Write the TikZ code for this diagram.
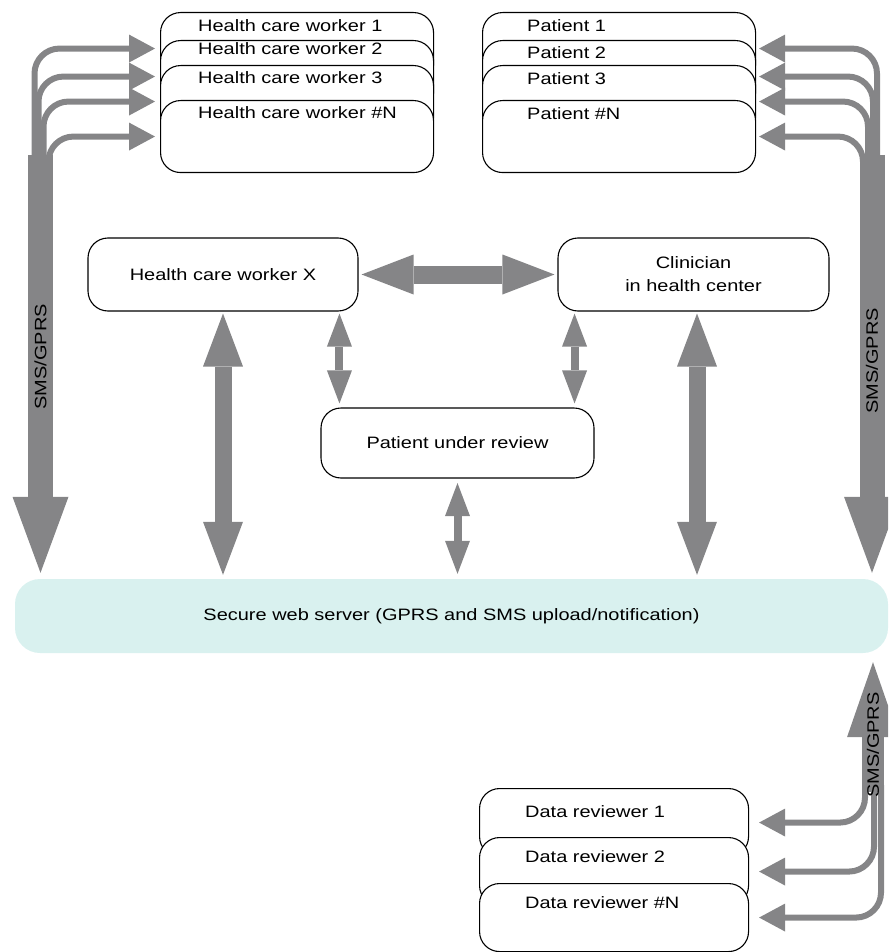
\documentclass[tikz,border=0pt]{standalone}
\usepackage{fontspec}
\setmainfont{Liberation Sans}[FakeStretch=1.21]
\usepackage{tikz}
\usetikzlibrary{arrows.meta}
\definecolor{arrowgray}{RGB}{133,133,135}
\definecolor{servercyan}{RGB}{217,241,239}

\begin{document}
\begin{tikzpicture}[x=1pt, y=1pt, font=\fontsize{16.5}{23}\selectfont]
  \tikzstyle{stackbox}=[draw, line width=1.1pt, fill=white, rounded corners=20pt, anchor=north west, inner sep=0pt]
  \tikzstyle{stacktext}=[anchor=base west, inner sep=0pt]
  \tikzstyle{actor}=[draw, line width=1.1pt, fill=white, rounded corners=20pt, align=center, inner sep=0pt]
  \tikzstyle{trunk}=[draw=arrowgray, line width=25pt, -{Triangle[length=76pt, width=56pt, line width=0pt]}]
  \tikzstyle{branch}=[draw=arrowgray, line width=6pt, rounded corners=25pt, -{Triangle[length=26pt, width=28pt, line width=0pt]}]
  \tikzstyle{biglink}=[draw=arrowgray, line width=17pt,
  {Triangle[length=53pt, width=40pt, line width=0pt]}-{Triangle[length=53pt, width=40pt, line width=0pt]}]
  \tikzstyle{smalllink}=[draw=arrowgray, line width=8pt,
  {Triangle[length=33pt, width=25pt, line width=0pt]}-{Triangle[length=33pt, width=25pt, line width=0pt]}]
  \tikzstyle{smslabel}=[rotate=90, inner sep=0pt]

  \useasboundingbox (0,0) rectangle (888,-952);
  \clip (0,0) rectangle (888,-952);

  \node (hcw1) [stackbox, minimum width=273pt, minimum height=72pt] at (160,-12) {};
  \node (hcw1t) [stacktext] at (198,-32) {Health care worker 1};
  \node (hcw2) [stackbox, minimum width=273pt, minimum height=72pt] at (160,-40) {};
  \node (hcw2t) [stacktext] at (198,-55) {Health care worker 2};
  \node (hcw3) [stackbox, minimum width=273pt, minimum height=72pt] at (160,-65) {};
  \node (hcw3t) [stacktext] at (198,-84) {Health care worker 3};
  \node (hcwn) [stackbox, minimum width=273pt, minimum height=72pt] at (160,-100) {};
  \node (hcwnt) [stacktext] at (198,-119) {Health care worker \#N};

  \node (pat1) [stackbox, minimum width=273pt, minimum height=72pt] at (482,-12) {};
  \node (pat1t) [stacktext] at (527,-32) {Patient 1};
  \node (pat2) [stackbox, minimum width=273pt, minimum height=72pt] at (482,-40) {};
  \node (pat2t) [stacktext] at (527,-59) {Patient 2};
  \node (pat3) [stackbox, minimum width=273pt, minimum height=72pt] at (482,-65) {};
  \node (pat3t) [stacktext] at (527,-85) {Patient 3};
  \node (patn) [stackbox, minimum width=273pt, minimum height=72pt] at (482,-100) {};
  \node (patnt) [stacktext] at (527,-120) {Patient \#N};

  \node (dr1) [stackbox, minimum width=269pt, minimum height=68pt] at (479,-788) {};
  \node (dr1t) [stacktext] at (525,-817) {Data reviewer 1};
  \node (dr2) [stackbox, minimum width=269pt, minimum height=68pt] at (479,-837) {};
  \node (dr2t) [stacktext] at (525,-862) {Data reviewer 2};
  \node (drn) [stackbox, minimum width=269pt, minimum height=68pt] at (479,-883) {};
  \node (drnt) [stacktext] at (525,-908) {Data reviewer \#N};

  \node (hcwx) [actor, minimum width=270pt, minimum height=73pt] at (223,-274.5) {Health care worker X};
  \node (clin) [actor, minimum width=271pt, minimum height=73pt] at (693.5,-274.5) {Clinician\\in health center};
  \node (pur) [actor, minimum width=273pt, minimum height=70pt] at (457.5,-443) {Patient under review};
  \node (server) [fill=servercyan, rounded corners=25pt, minimum width=873pt, minimum height=74pt, inner sep=0pt]
  at (451.5,-616) {Secure web server (GPRS and SMS upload/notification)};

  \coordinate (ltop) at (40.5,-165);
  \coordinate (rtop) at (872,-165);
  \coordinate (bbot) at (873,-785);
  \coordinate (purl) at ([xshift=19pt]pur.north west);
  \coordinate (purr) at ([xshift=-20pt]pur.north east);
  \coordinate (clinb) at ([xshift=3.5pt]clin.south);

  \draw[branch, shorten >=5pt] ([xshift=-6pt]ltop) |- (hcw1.west);
  \draw[branch, shorten >=5pt] ([xshift=-2pt]ltop) |- (hcw2.west);
  \draw[branch, shorten >=5pt] ([xshift=3pt]ltop) |- (hcw3.west);
  \draw[branch, shorten >=5pt] ([xshift=8pt]ltop) |- (hcwn.west);
  \draw[trunk, shorten >=6pt] ([yshift=10pt]ltop) -- node[smslabel, pos=0.476] (lsms) {SMS/GPRS} (ltop |- server.north);

  \draw[branch, shorten >=3pt] ([xshift=5pt]rtop) |- (pat1.east);
  \draw[branch, shorten >=3pt] ([xshift=1pt]rtop) |- (pat2.east);
  \draw[branch, shorten >=3pt] ([xshift=-4pt]rtop) |- (pat3.east);
  \draw[branch, shorten >=3pt] ([xshift=-9pt]rtop) |- (patn.east);
  \draw[trunk, shorten >=6pt] ([yshift=10pt]rtop) -- node[smslabel, pos=0.486] (rsms) {SMS/GPRS} (rtop |- server.north);

  \draw[branch, shorten >=10pt] ([xshift=-8pt]bbot) |- (dr1.east);
  \draw[branch, shorten >=10pt] ([xshift=1pt]bbot) |- (dr2.east);
  \draw[branch, shorten >=10pt] ([xshift=8pt]bbot) |- (drn.east);
  \draw[trunk, line width=22pt, -{Triangle[length=75pt, width=52pt, line width=0pt]}, shorten >=9pt]
  ([yshift=-7pt]bbot) -- node[smslabel, pos=0.338] (bsms) {SMS/GPRS} (bbot |- server.south);

  \draw[biglink, line width=18pt, {Triangle[length=52pt, width=40pt, line width=0pt]}-{Triangle[length=52pt, width=40pt, line width=0pt]},
  shorten <=3pt, shorten >=3pt] (hcwx.east) -- (clin.west);
  \draw[biglink, shorten <=2pt, shorten >=4pt] (hcwx.south) -- (hcwx.south |- server.north);
  \draw[biglink, shorten <=2pt, shorten >=4pt] (clinb) -- (clinb |- server.north);
  \draw[smalllink, shorten <=2pt, shorten >=4pt] (purl |- hcwx.south) -- (purl);
  \draw[smalllink, shorten <=2pt, shorten >=4pt] (purr |- clin.south) -- (purr);
  \draw[smalllink, shorten <=4.5pt, shorten >=5pt] (pur.south) -- (pur.south |- server.north);

\end{tikzpicture}
\end{document}
